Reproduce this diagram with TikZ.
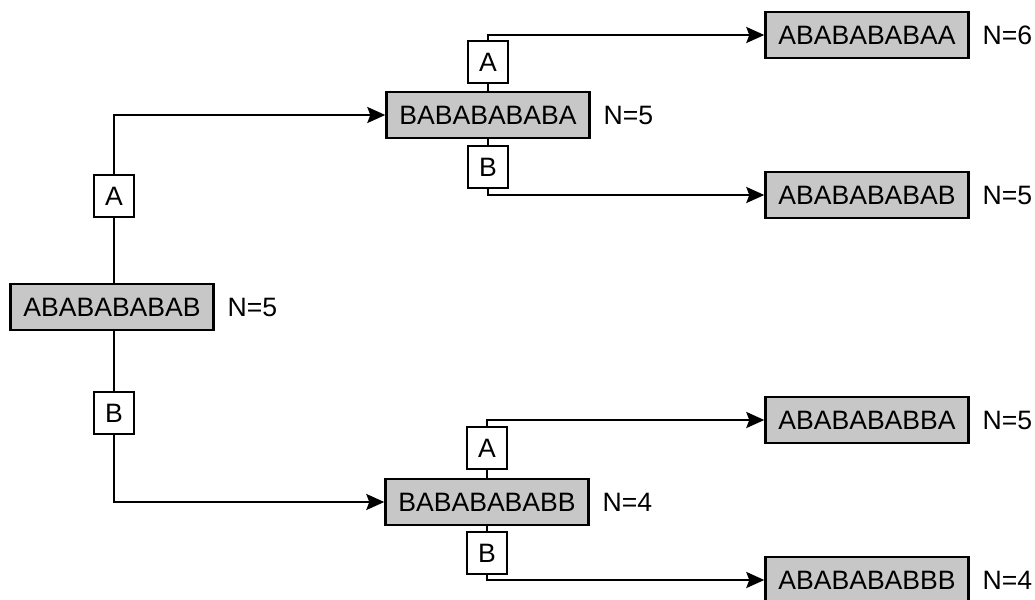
\documentclass[tikz,border=0pt]{standalone}
\usepackage{fontspec}
\setmainfont{Liberation Sans}
\usetikzlibrary{arrows.meta,positioning}

\begin{document}
\begin{tikzpicture}[x=0.5pt, y=-0.5pt, line width=1pt,
    >={Stealth[length=9pt,width=8pt,inset=1.5pt]},
    seqbox/.style={draw, line width=1.2pt, fill=black!22, minimum width=101.5pt,
      minimum height=23pt, inner sep=0pt, font=\fontsize{13.3}{16}\selectfont},
    symbox/.style={draw, fill=white, minimum width=20pt, minimum height=21pt,
      inner sep=0pt, font=\fontsize{13.3}{16}\selectfont},
    count/.style={inner sep=0pt, font=\fontsize{13.3}{16}\selectfont}]
  \useasboundingbox (0,0) rectangle (1035,600);

  % --- Start sequence ---
  \node[seqbox] (root) at (112,307) {ABABABABAB};
  \node[count, right=6pt of root] (nroot) {N=5};

  % --- After one step ---
  \node[seqbox] (up) at (488,115) {BABABABABA};
  \node[count, right=6pt of up] (nup) {N=5};
  \node[seqbox] (dn) at (487,502) {BABABABABB};
  \node[count, right=6pt of dn] (ndn) {N=4};

  % --- After two steps ---
  \node[seqbox] (upa) at (867,35) {ABABABABAA};
  \node[count, right=6pt of upa] (nupa) {N=6};
  \node[seqbox] (upb) at (867,195) {ABABABABAB};
  \node[count, right=6pt of upb] (nupb) {N=5};
  \node[seqbox] (dna) at (867,420) {ABABABABBA};
  \node[count, right=6pt of dna] (ndna) {N=5};
  \node[seqbox] (dnb) at (867,580) {ABABABABBB};
  \node[count, right=6pt of dnb] (ndnb) {N=4};

  % --- Appended symbol ---
  \node[symbox] (rA) at (114,196) {A};
  \node[symbox] (rB) at (114,413) {B};
  \node[symbox] (upA) at (488,62) {A};
  \node[symbox] (upB) at (488,167) {B};
  \node[symbox] (dnA) at (487,448) {A};
  \node[symbox] (dnB) at (487,553) {B};

  % Branches
  \draw (root.north -| rA) -- (rA);
  \draw[->] (rA) |- (up);
  \draw (root.south -| rB) -- (rB);
  \draw[->] (rB) |- (dn);

  \draw (up.north -| upA) -- (upA);
  \draw[->] (upA) |- (upa);
  \draw (up.south -| upB) -- (upB);
  \draw[->] (upB) |- (upb);

  \draw (dn.north -| dnA) -- (dnA);
  \draw[->] (dnA) |- (dna);
  \draw (dn.south -| dnB) -- (dnB);
  \draw[->] (dnB) |- (dnb);

\end{tikzpicture}
\end{document}
